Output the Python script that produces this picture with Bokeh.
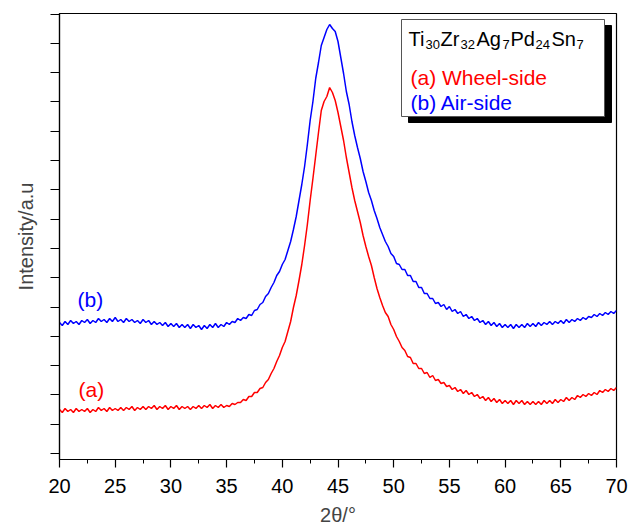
import numpy as np
from bokeh.plotting import figure
from bokeh.models import Range1d, FixedTicker, SingleIntervalTicker, Label, BoxAnnotation
from bokeh.embed import file_html
from bokeh.resources import INLINE

# ---------------- data ----------------
two_theta = np.round(np.arange(20.0, 70.0001, 0.25), 2)   # measurement grid, 2θ in degrees

# (b) Air-side, intensity (a.u.), one row per 5 degrees (4 points / degree)
air_side = [
    131, 128, 132, 129,  133, 130, 132, 129,  133, 131, 134, 130,  133, 131, 135, 132,  134, 131, 135, 132,   # 20-24.75
    136, 132, 134, 131,  135, 132, 134, 131,  133, 130, 134, 131,  133, 129, 132, 129,  131, 128, 131, 127,   # 25-29.75
    130, 127, 130, 126,  129, 126, 129, 125,  129, 126, 128, 124,  128, 125, 129, 126,  130, 126, 129, 127,   # 30-34.75
    131, 129, 132, 131,  135, 133, 136, 135,  139, 138, 143, 144,  149, 151, 157, 160,  166, 171, 178, 182,   # 35-39.75
    189, 194, 203, 212,  224, 237, 253, 269,  287, 309, 333, 352,  375, 391, 408, 416,  424, 429, 425, 422,   # 40-44.75
    412, 396, 380, 362,  349, 332, 318, 306,  295, 282, 272, 261,  253, 243, 235, 226,  219, 212, 207, 200,   # 45-49.75
    197, 190, 189, 184,  184, 178, 178, 172,  172, 166, 166, 160,  160, 155, 155, 150,  151, 147, 149, 144,   # 50-54.75
    147, 142, 144, 140,  142, 137, 139, 135,  137, 133, 135, 131,  133, 129, 132, 128,  131, 127, 130, 126,   # 55-59.75
    129, 126, 129, 125,  129, 126, 129, 126,  130, 127, 130, 127,  131, 128, 131, 129,  132, 129, 132, 130,   # 60-64.75
    133, 130, 134, 131,  134, 132, 135, 133,  136, 134, 137, 136,  139, 137, 140, 138,  141, 139, 142, 140,   # 65-69.75
    143,                                                                                                     # 70
]

# (a) Wheel-side, intensity (a.u.)
wheel_side = [
    44, 41, 45, 42,  44, 41, 45, 42,  44, 42, 45, 41,  44, 42, 46, 43,  45, 42, 46, 43,          # 20-24.75
    45, 43, 46, 43,  46, 44, 47, 43,  46, 44, 47, 44,  47, 45, 48, 44,  47, 45, 48, 44,          # 25-29.75
    47, 45, 48, 44,  47, 45, 47, 44,  47, 45, 48, 45,  48, 46, 49, 45,  48, 46, 49, 46,          # 30-34.75
    48, 47, 50, 49,  51, 51, 54, 53,  57, 57, 61, 61,  65, 66, 71, 74,  80, 85, 92, 98,          # 35-39.75
    106, 112, 122, 132,  146, 158, 173, 189,  208, 229, 253, 275,  298, 321, 343, 352,  357, 366, 361, 353,   # 40-44.75
    341, 327, 313, 296,  281, 266, 253, 242,  231, 218, 207, 197,  188, 176, 165, 156,  148, 141, 137, 129,   # 45-49.75
    124, 117, 112, 106,  103, 97, 96, 90,  90, 85, 85, 80,  81, 76, 78, 73,  74, 70, 71, 67,      # 50-54.75
    68, 64, 66, 62,  64, 60, 63, 59,  61, 57, 59, 55,  57, 53, 56, 52,  55, 51, 54, 50,          # 55-59.75
    53, 50, 53, 49,  53, 50, 53, 49,  52, 49, 52, 49,  52, 49, 53, 50,  53, 50, 54, 51,          # 60-64.75
    54, 52, 56, 53,  56, 54, 58, 56,  59, 57, 60, 58,  61, 59, 63, 61,  64, 62, 65, 63,          # 65-69.75
    66,                                                                                          # 70
]

title_parts = [("Ti", False), ("30", True), ("Zr", False), ("32", True), ("Ag", False),
               ("7", True), ("Pd", False), ("24", True), ("Sn", False), ("7", True)]

# ---------------- figure ----------------
FONT = "Liberation Sans"
X0, X1, Y0, Y1 = 20, 70, -6, 440
FL, FR, FT, FB = 59, 616, 13, 459          # frame edges in page pixels
W, H = 629, 528

p = figure(width=W, height=H, output_backend="svg", toolbar_location=None,
           x_range=Range1d(X0, X1), y_range=Range1d(Y0, Y1),
           min_border_left=FL, min_border_right=W - FR, min_border_top=FT, min_border_bottom=H - FB)
p.background_fill_color = "white"
p.border_fill_color = "white"
p.outline_line_color = "black"
p.outline_line_width = 1.2
p.xgrid.visible = False
p.ygrid.visible = False

def xd(px):
    return X0 + (px - FL) * (X1 - X0) / (FR - FL)
def yd(py):
    return Y0 + (FB - py) * (Y1 - Y0) / (FB - FT)

# x axis
xa = p.xaxis[0]
xa.ticker = SingleIntervalTicker(interval=5, num_minor_ticks=2)
xa.major_tick_out = 8
xa.major_tick_in = 0
xa.minor_tick_out = 4
xa.minor_tick_in = 0
xa.axis_line_width = 1.2
xa.major_tick_line_width = 1.2
xa.major_label_text_font = FONT
xa.major_label_text_font_size = "20px"
xa.major_label_text_color = "black"
xa.major_label_standoff = 11
xa.axis_label = "2θ/°"
xa.axis_label_text_font = FONT
xa.axis_label_text_font_size = "20px"
xa.axis_label_text_font_style = "normal"
xa.axis_label_standoff = 8

# y axis (no tick labels)
ya = p.yaxis[0]
ya.ticker = FixedTicker(ticks=[i * 29.3 for i in range(16)], minor_ticks=[])
ya.major_tick_out = 9
ya.major_tick_in = 0
ya.minor_tick_out = 0
ya.axis_line_width = 1.2
ya.major_tick_line_width = 1.2
ya.major_label_text_font_size = "0px"
ya.major_label_text_alpha = 0
ya.major_label_standoff = 0
ya.axis_label = "Intensity/a.u"
ya.axis_label_text_font = FONT
ya.axis_label_text_font_size = "20px"
ya.axis_label_text_font_style = "normal"
ya.axis_label_standoff = 14

# curves
p.line(two_theta, air_side, line_color="#0000ff", line_width=1.5)
p.line(two_theta, wheel_side, line_color="#ff0000", line_width=1.5)

SHIFT = 6   # labels render slightly below the requested baseline
def lab(px, py, text, color="black", size="21px", style="normal"):
    p.add_layout(Label(x=xd(px), y=yd(py - SHIFT), text=text, text_color=color, text_font=FONT,
                       text_font_size=size, text_font_style=style, text_baseline="alphabetic"))

# curve labels
lab(77, 305, "(b)", "#0000ff")
lab(78, 395, "(a)", "#ff0000")

# legend box with shadow
p.add_layout(BoxAnnotation(left=xd(408), right=xd(611), top=yd(25), bottom=yd(122),
                           fill_color="black", fill_alpha=1, line_color="black", line_alpha=1,
                           level="annotation"))
p.add_layout(BoxAnnotation(left=xd(401), right=xd(604), top=yd(19), bottom=yd(116),
                           fill_color="white", fill_alpha=1, line_color="#555555", line_width=1,
                           line_alpha=1, level="annotation"))

# title: Ti30Zr32Ag7Pd24Sn7 with subscripts
part_px = [408, 425, 440, 460, 476, 502, 510, 535, 551, 576]
for (txt, sub), px in zip(title_parts, part_px):
    if sub:
        lab(px, 50, txt, size="13px")
    else:
        lab(px, 44, txt, size="20px")
lab(410, 83, "(a) Wheel-side", "#ff0000")
lab(410, 108, "(b) Air-side", "#0000ff")

open("out.html", "w").write(file_html(p, INLINE))
